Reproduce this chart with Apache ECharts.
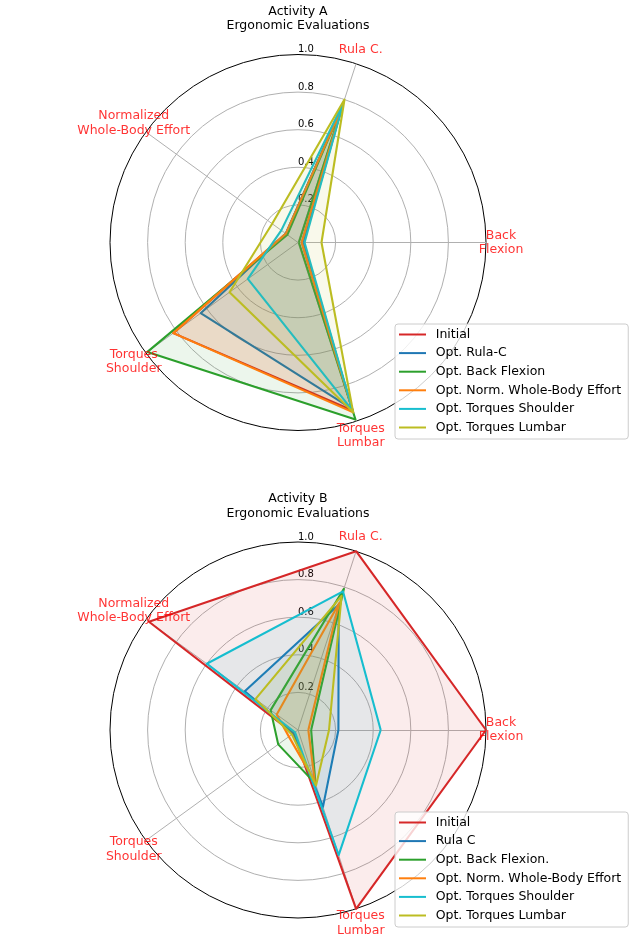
<!DOCTYPE html>
<html>
<head>
<meta charset="utf-8">
<script src="https://cdn.jsdelivr.net/npm/echarts@6/dist/echarts.min.js"></script>
<style>
html,body{margin:0;padding:0;background:#fff;}
#chart{width:637px;height:935px;}
</style>
</head>
<body>
<div id="chart"></div>
<script>
// Axis (category) names, in counter-clockwise order starting at 3 o'clock
const axisNames = ['Back\nFlexion', 'Rula C.', 'Normalized\nWhole-Body Effort', 'Torques\nShoulder', 'Torques\nLumbar'];
const radialTicks = [0.2, 0.4, 0.6, 0.8, 1.0];
const seriesColors = ['#d62728', '#1f77b4', '#2ca02c', '#ff7f0e', '#17becf', '#bcbd22'];

const titleA = 'Activity A\nErgonomic Evaluations';
const titleB = 'Activity B\nErgonomic Evaluations';
const namesA = ['Initial', 'Opt. Rula-C', 'Opt. Back Flexion', 'Opt. Norm. Whole-Body Effort', 'Opt. Torques Shoulder', 'Opt. Torques Lumbar'];
const namesB = ['Initial', 'Rula C', 'Opt. Back Flexion.', 'Opt. Norm. Whole-Body Effort', 'Opt. Torques Shoulder', 'Opt. Torques Lumbar'];

// Values: [Back Flexion, Rula C., Normalized WBE, Torques Shoulder, Torques Lumbar]
const a_initial  = [0.02, 0.76, 0.08, 0.82, 0.94];
const a_rula     = [0.03, 0.77, 0.08, 0.64, 0.93];
const a_back     = [0.005, 0.76, 0.07, 0.99, 0.99];
const a_norm     = [0.02, 0.75, 0.08, 0.82, 0.95];
const a_shoulder = [0.035, 0.78, 0.11, 0.33, 0.94];
const a_lumbar   = [0.125, 0.80, 0.17, 0.45, 0.95];

const b_initial  = [1.0, 1.0, 0.98, 0.03, 1.0];
const b_rula     = [0.215, 0.70, 0.35, 0.03, 0.43];
const b_back     = [0.07, 0.79, 0.18, 0.13, 0.30];
const b_norm     = [0.055, 0.71, 0.14, 0.06, 0.29];
const b_shoulder = [0.44, 0.775, 0.60, 0.02, 0.70];
const b_lumbar   = [0.165, 0.75, 0.28, 0.04, 0.31];

const valuesA = [a_initial, a_rula, a_back, a_norm, a_shoulder, a_lumbar];
const valuesB = [b_initial, b_rula, b_back, b_norm, b_shoulder, b_lumbar];

const FONT = 'DejaVu Sans';
const R = 188;
const FILL_ALPHA = 0.13;
const panels = [
  {title: titleA, names: namesA, values: valuesA, center: [298, 242.5], titleTop: 4.5, legendTop: 324},
  {title: titleB, names: namesB, values: valuesB, center: [298, 730], titleTop: 492, legendTop: 812}
];

function rgba(hex, a) {
  const n = parseInt(hex.slice(1), 16);
  return 'rgba(' + ((n >> 16) & 255) + ',' + ((n >> 8) & 255) + ',' + (n & 255) + ',' + a + ')';
}
const step = 360 / axisNames.length;
// polar angle axis starts at 12 o'clock (startAngle 90), so shift by -90
const nameAngle = i => ((i * step - 90) % 360 + 360) % 360;

const option = {
  animation: false,
  backgroundColor: '#ffffff',
  title: panels.map(p => ({
    text: p.title, left: p.center[0], top: p.titleTop, textAlign: 'center', padding: 0,
    textStyle: {fontFamily: FONT, fontSize: 12.5, fontWeight: 'normal', color: '#000', lineHeight: 14.4}
  })),
  legend: panels.map(p => ({
    data: p.names, orient: 'vertical', left: 395, top: p.legendTop,
    icon: 'rect', itemWidth: 27, itemHeight: 2, itemGap: 3.6,
    padding: [3, 7, 4, 4], backgroundColor: 'rgba(255,255,255,0.8)',
    borderColor: '#cccccc', borderWidth: 1, borderRadius: 3, selectedMode: false,
    itemStyle: {borderWidth: 0},
    textStyle: {fontFamily: FONT, fontSize: 12.5, color: '#000', lineHeight: 15, padding: [0, 0, 0, 4.7]}
  })),
  radar: panels.map(p => ({
    center: p.center, radius: R, startAngle: 0, shape: 'circle', splitNumber: radialTicks.length,
    indicator: axisNames.map(n => ({name: n, min: 0, max: 1})),
    axisName: {show: false},
    axisLine: {lineStyle: {color: '#b0b0b0', width: 1}},
    axisTick: {show: false},
    axisLabel: {show: false},
    splitLine: {lineStyle: {color: ['#b0b0b0', '#b0b0b0', '#b0b0b0', '#b0b0b0', '#b0b0b0', '#000000'], width: 1}},
    splitArea: {show: false}
  })),
  polar: panels.map(p => ({center: p.center, radius: R})),
  angleAxis: panels.map((p, k) => ({
    polarIndex: k, type: 'value', min: 0, max: 360, startAngle: 90, clockwise: false,
    axisLine: {show: false}, axisTick: {show: false}, axisLabel: {show: false}, splitLine: {show: false}
  })),
  radiusAxis: panels.map((p, k) => ({
    polarIndex: k, type: 'value', min: 0, max: 1, interval: 0.2,
    axisLine: {show: false}, axisTick: {show: false}, splitLine: {show: false},
    axisLabel: {
      show: true, margin: 0, align: 'left', verticalAlign: 'bottom',
      fontFamily: FONT, fontSize: 10, color: '#000',
      formatter: v => (v > 0 ? v.toFixed(1) : '')
    }
  })),
  series: []
};

panels.forEach((p, k) => {
  p.values.forEach((vals, j) => {
    option.series.push({
      type: 'radar', radarIndex: k, symbol: 'none', silent: true, z: 2,
      data: [{name: p.names[j], value: vals}],
      lineStyle: {color: seriesColors[j], width: 2.1},
      itemStyle: {color: seriesColors[j]},
      areaStyle: {color: rgba(seriesColors[j], FILL_ALPHA)}
    });
  });
  option.series.push({
    type: 'scatter', coordinateSystem: 'polar', polarIndex: k, clip: false, silent: true, z: 3,
    symbolSize: 1, itemStyle: {color: 'rgba(0,0,0,0)'},
    data: axisNames.map((n, i) => [1.08, nameAngle(i)]),
    label: {
      show: true, position: 'inside', formatter: q => axisNames[q.dataIndex],
      color: '#ff0000', fontFamily: FONT, fontSize: 12.5, lineHeight: 14.3,
      align: 'center', verticalAlign: 'middle'
    }
  });
});

const chart = echarts.init(document.getElementById('chart'), null, {renderer: 'canvas'});
chart.setOption(option);
</script>
</body>
</html>
